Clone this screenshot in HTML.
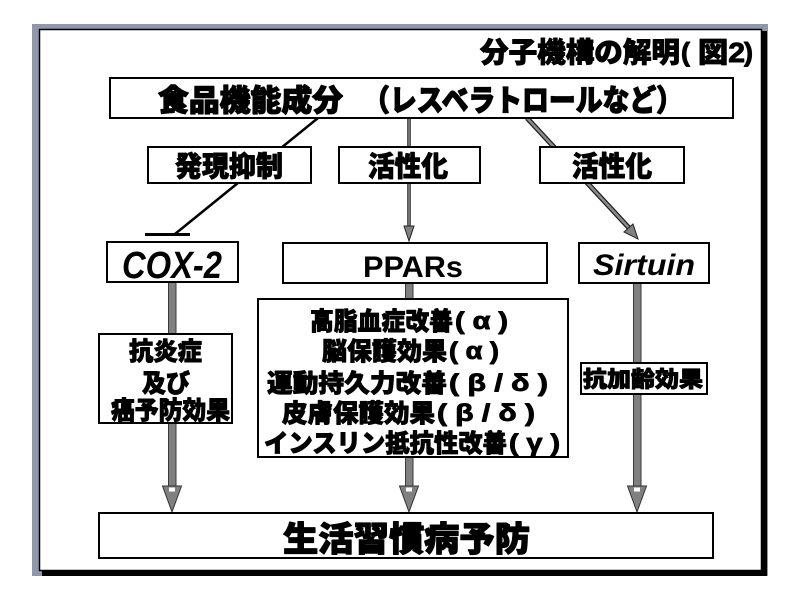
<!DOCTYPE html>
<html>
<head>
<meta charset="utf-8">
<style>
  html, body { margin:0; padding:0; background:#ffffff; }
  body { width:800px; height:600px; overflow:hidden; }
  svg { display:block; }
  .jp { font-family:"Liberation Sans","Noto Sans CJK JP",sans-serif; font-weight:900; fill:#000; stroke:#000; stroke-width:0.9; stroke-linejoin:round; }
  .jpb { font-family:"Liberation Sans","Noto Sans CJK JP",sans-serif; font-weight:900; fill:#000; stroke:#000; stroke-width:1.2; stroke-linejoin:round; }
  .en { font-family:"Liberation Sans","DejaVu Sans",sans-serif; font-weight:bold; fill:#000; }
</style>
</head>
<body>
<svg width="800" height="600" viewBox="0 0 800 600" xmlns="http://www.w3.org/2000/svg">
  <!-- frame -->
  <rect x="32" y="24" width="736" height="552" fill="#9198aa"/>
  <rect x="39.5" y="29.5" width="722" height="541" fill="#ffffff" stroke="#000" stroke-width="1.5"/>
  <rect x="761" y="31" width="6" height="545" fill="#000"/>
  <rect x="42" y="570" width="725" height="6" fill="#000"/>

  <!-- title -->
  <text class="jp" x="480" y="62" font-size="28" textLength="200" lengthAdjust="spacingAndGlyphs">分子機構の解明</text>
  <text class="jp" x="681" y="61" font-size="26" textLength="9" lengthAdjust="spacingAndGlyphs">(</text>
  <text class="jp" x="698" y="62" font-size="28" textLength="47" lengthAdjust="spacingAndGlyphs">図2</text>
  <text class="jp" x="744" y="61" font-size="26" textLength="9" lengthAdjust="spacingAndGlyphs">)</text>

  <!-- connectors from top box -->
  <line x1="318" y1="118" x2="175" y2="234" stroke="#000" stroke-width="2.5"/>
  <line x1="145" y1="234.5" x2="190" y2="234.5" stroke="#000" stroke-width="3"/>

  <line x1="409" y1="118" x2="409" y2="230" stroke="#222" stroke-width="3.5"/>
  <line x1="409" y1="118" x2="409" y2="230" stroke="#8a8a8a" stroke-width="1.5"/>
  <polygon points="404,226 414,226 409,241" fill="#808080" stroke="#222" stroke-width="1"/>

  <line x1="527" y1="118" x2="630" y2="229" stroke="#222" stroke-width="5"/>
  <line x1="527" y1="118" x2="630" y2="229" stroke="#8a8a8a" stroke-width="2.5"/>
  <polygon points="624,232 633,224 638,239" fill="#808080" stroke="#222" stroke-width="1"/>

  <!-- gray vertical bars -->
  <rect x="168.5" y="282" width="7.5" height="205" fill="#808080" stroke="#3a3a3a" stroke-width="1"/>
  <rect x="405.5" y="283" width="7.5" height="204" fill="#808080" stroke="#3a3a3a" stroke-width="1"/>
  <rect x="633.5" y="283" width="7.5" height="204" fill="#808080" stroke="#3a3a3a" stroke-width="1"/>

  <!-- bottom arrowheads -->
  <polygon points="162.5,486 181.5,486 172,512" fill="#808080" stroke="#333" stroke-width="1"/>
  <rect x="169" y="487.5" width="6" height="4" fill="#fff"/>
  <polygon points="399.5,486 418.5,486 409,512" fill="#808080" stroke="#333" stroke-width="1"/>
  <rect x="406" y="487.5" width="6" height="4" fill="#fff"/>
  <polygon points="627.5,486 646.5,486 637,512" fill="#808080" stroke="#333" stroke-width="1"/>
  <rect x="634" y="487.5" width="6" height="4" fill="#fff"/>

  <!-- top box -->
  <rect x="110" y="78" width="623" height="40" fill="#fff" stroke="#000" stroke-width="2"/>
  <text class="jpb" x="158" y="111" font-size="30" textLength="185" lengthAdjust="spacingAndGlyphs">食品機能成分</text>
  <text class="jpb" x="363" y="111" font-size="30" textLength="320" lengthAdjust="spacingAndGlyphs">（レスベラトロールなど）</text>

  <!-- label boxes -->
  <rect x="148" y="147" width="163" height="36" fill="#fff" stroke="#000" stroke-width="2"/>
  <text class="jp" x="175" y="176" font-size="28" textLength="108" lengthAdjust="spacingAndGlyphs">発現抑制</text>

  <rect x="339" y="147" width="141" height="36" fill="#fff" stroke="#000" stroke-width="2"/>
  <text class="jp" x="368" y="176" font-size="28" textLength="80" lengthAdjust="spacingAndGlyphs">活性化</text>

  <rect x="540" y="147" width="144" height="36" fill="#fff" stroke="#000" stroke-width="2"/>
  <text class="jp" x="572" y="176" font-size="28" textLength="80" lengthAdjust="spacingAndGlyphs">活性化</text>

  <!-- second row boxes -->
  <rect x="107" y="242" width="131" height="40" fill="#fff" stroke="#000" stroke-width="2"/>
  <text class="en" x="122" y="278" font-size="38" font-style="italic" textLength="100" lengthAdjust="spacingAndGlyphs">COX-2</text>

  <rect x="283" y="243" width="264" height="40" fill="#fff" stroke="#000" stroke-width="2"/>
  <text class="en" x="363" y="277" font-size="30" textLength="100" lengthAdjust="spacingAndGlyphs">PPARs</text>

  <rect x="579" y="243" width="130" height="40" fill="#fff" stroke="#000" stroke-width="2"/>
  <text class="en" x="593" y="275" font-size="30" font-style="italic" textLength="102" lengthAdjust="spacingAndGlyphs">Sirtuin</text>

  <!-- effects boxes -->
  <rect x="99" y="334" width="133" height="89" fill="#fff" stroke="#000" stroke-width="2"/>
  <text class="jp" x="129" y="360" font-size="25" textLength="73" lengthAdjust="spacingAndGlyphs">抗炎症</text>
  <text class="jp" x="142" y="392" font-size="25" textLength="48" lengthAdjust="spacingAndGlyphs">及び</text>
  <text class="jp" x="111" y="419" font-size="25" textLength="119" lengthAdjust="spacingAndGlyphs">癌予防効果</text>

  <rect x="258" y="299" width="310" height="158" fill="#fff" stroke="#000" stroke-width="2"/>
  <!-- line 1 -->
  <text class="jp" x="310" y="330" font-size="25" textLength="143" lengthAdjust="spacingAndGlyphs">高脂血症改善</text>
  <text class="jp" x="455" y="329" font-size="24" textLength="53" lengthAdjust="spacingAndGlyphs">( α )</text>
  <!-- line 2 -->
  <text class="jp" x="322" y="360" font-size="25" textLength="125" lengthAdjust="spacingAndGlyphs">脳保護効果</text>
  <text class="jp" x="449" y="359" font-size="24" textLength="50" lengthAdjust="spacingAndGlyphs">( α )</text>
  <!-- line 3 -->
  <text class="jp" x="267" y="392" font-size="25" textLength="180" lengthAdjust="spacingAndGlyphs">運動持久力改善</text>
  <text class="jp" x="449" y="391" font-size="24" textLength="99" lengthAdjust="spacingAndGlyphs">( β / δ )</text>
  <!-- line 4 -->
  <text class="jp" x="282" y="422" font-size="25" textLength="153" lengthAdjust="spacingAndGlyphs">皮膚保護効果</text>
  <text class="jp" x="437" y="421" font-size="24" textLength="98" lengthAdjust="spacingAndGlyphs">( β / δ )</text>
  <!-- line 5 -->
  <text class="jp" x="264" y="452" font-size="25" textLength="243" lengthAdjust="spacingAndGlyphs">インスリン抵抗性改善</text>
  <text class="jp" x="509" y="451" font-size="24" textLength="51" lengthAdjust="spacingAndGlyphs">( γ )</text>

  <rect x="581" y="363" width="126" height="31" fill="#fff" stroke="#000" stroke-width="2"/>
  <text class="jp" x="583" y="387" font-size="22" textLength="120" lengthAdjust="spacingAndGlyphs">抗加齢効果</text>

  <!-- bottom box -->
  <rect x="99" y="513" width="614" height="45" fill="#fff" stroke="#000" stroke-width="2"/>
  <text class="jpb" x="283" y="551" font-size="34" textLength="247" lengthAdjust="spacingAndGlyphs">生活習慣病予防</text>
</svg>
</body>
</html>
